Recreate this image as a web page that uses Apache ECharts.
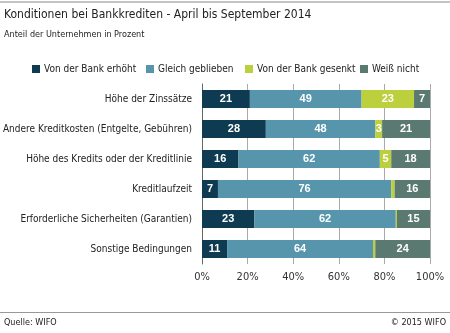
<!DOCTYPE html>
<html><head><meta charset="utf-8">
<script src="https://cdn.jsdelivr.net/npm/echarts@6/dist/echarts.min.js"></script>
<style>html,body{margin:0;padding:0;background:#fff}#c{width:450px;height:333px}</style>
</head><body><div id="c"></div>
<script>
var categories = ["Höhe der Zinssätze","Andere Kreditkosten (Entgelte, Gebühren)","Höhe des Kredits oder der Kreditlinie","Kreditlaufzeit","Erforderliche Sicherheiten (Garantien)","Sonstige Bedingungen"];
var seriesNames = ["Von der Bank erhöht","Gleich geblieben","Von der Bank gesenkt","Weiß nicht"];
var erhoeht = [21,28,16,7,23,11];
var gleich = [49,48,62,76,62,64];
var gesenkt = [23,3,5,1.5,0.5,1];
var weissNicht = [7,21,18,16,15,24];
var xTicks = [0,20,40,60,80,100];
var colors = ["#0e3b52","#5795ad","#bccf3c","#5a7a71"];
var FONT = '"Liberation Sans Narrow","DejaVu Sans Condensed","Roboto",sans-serif';
var legendLeft = [32, 146, 245, 360];

var chart = echarts.init(document.getElementById('c'), null, {renderer:'canvas'});
var data = [erhoeht, gleich, gesenkt, weissNicht];
var series = seriesNames.map(function(n,i){
  return {
    name:n, type:'bar', stack:'a', barWidth:18, data:data[i],
    itemStyle:{color:colors[i]},
    label:{show:true, position:'inside', color:'#fff', fontWeight:'bold', fontSize:11, fontFamily:'Arial, "Liberation Sans", sans-serif',
      formatter:function(p){return p.value>=2?p.value:'';}},
    emphasis:{disabled:true}
  };
});
var legends = seriesNames.map(function(n,i){
  return {data:[n], left:legendLeft[i], top:64, icon:'rect', itemWidth:8, itemHeight:8, itemGap:0, padding:0,
    selectedMode:false, textStyle:{fontFamily:FONT, fontSize:10, color:'#222', padding:[0,0,0,-1]}};
});
chart.setOption({
  animation:false,
  textStyle:{fontFamily:FONT},
  legend:legends,
  grid:{left:202, right:20, top:84, bottom:69, outerBoundsMode:'none', containLabel:false},
  xAxis:{type:'value', min:0, max:100, interval:20,
    axisLine:{show:false}, axisTick:{show:false},
    splitLine:{lineStyle:{color:'#aaaaaa', width:1}},
    axisLabel:{formatter:function(v){return v+'%';}, color:'#333', fontSize:11, fontFamily:FONT, margin:8}},
  yAxis:{type:'category', data:categories, inverse:true,
    axisLine:{show:true, lineStyle:{color:'#666', width:1}}, axisTick:{show:false},
    axisLabel:{color:'#222', fontSize:10, fontFamily:FONT, margin:10}},
  series:series,
  graphic:[
    {type:'rect', shape:{x:0,y:1,width:450,height:2}, style:{fill:'#c4c4c4'}},
    {type:'text', left:4, top:9, style:{text:'Konditionen bei Bankkrediten - April bis September 2014', font:'12px '+FONT, fill:'#222'}},
    {type:'text', left:4, top:30, style:{text:'Anteil der Unternehmen in Prozent', font:'9px '+FONT, fill:'#222'}},
    {type:'rect', shape:{x:0,y:312,width:450,height:1}, style:{fill:'#999'}},
    {type:'text', left:4, top:318, style:{text:'Quelle: WIFO', font:'9px '+FONT, fill:'#222'}},
    {type:'text', right:4, top:318, style:{text:'© 2015 WIFO', font:'9px '+FONT, fill:'#222'}}
  ]
});
</script></body></html>
